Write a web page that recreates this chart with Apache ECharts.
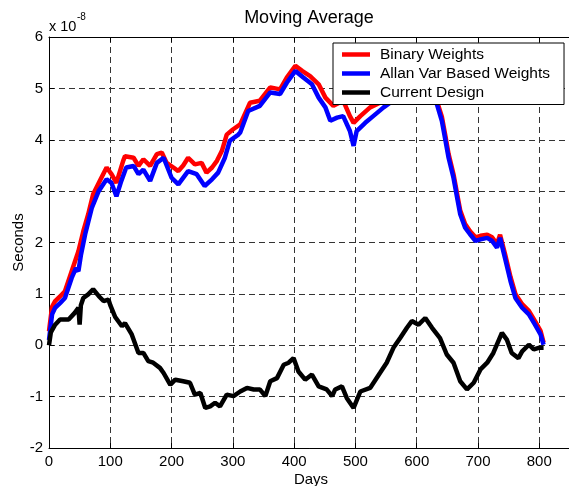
<!DOCTYPE html>
<html>
<head>
<meta charset="utf-8">
<script src="https://cdn.jsdelivr.net/npm/echarts@6/dist/echarts.min.js"></script>
<style>
html,body{margin:0;padding:0;background:#fff;}
#chart{width:569px;height:486px;}
</style>
</head>
<body>
<div id="chart"></div>
<script>
// Values in units of 1e-8 seconds
const binaryDays = [0,5,10,18,26,37,48,56,64,72,83,94,102,110,121,124,138,146,154,165,176,184,192,203,211,219,227,238,249,257,266,274,282,290,300,312,328,344,361,377,388,402,413,426,440,451,464,480,491,497,508,524,540,555,570,585,600,615,627,633,641,647,652,660,666,671,679,687,696,704,715,723,731,736,744,753,761,772,783,793,802,807];
const binaryVals = [0.27,0.75,0.86,0.95,1.05,1.44,1.83,2.22,2.55,2.94,3.2,3.46,3.33,3.16,3.59,3.68,3.65,3.49,3.62,3.49,3.72,3.75,3.55,3.46,3.39,3.5,3.65,3.52,3.55,3.36,3.46,3.59,3.78,4.1,4.2,4.3,4.72,4.76,5.02,4.98,5.21,5.44,5.34,5.24,5.08,4.82,4.66,4.76,4.46,4.33,4.46,4.63,4.72,4.85,4.95,5.0,5.05,4.95,4.78,4.75,4.45,4.06,3.72,3.33,2.94,2.62,2.36,2.22,2.1,2.13,2.15,2.1,1.97,2.15,1.78,1.33,1.0,0.8,0.67,0.47,0.28,0.05];

const allanDays = [0,5,10,18,26,37,44,48,52,59,70,81,94,102,110,118,126,138,146,154,165,176,187,200,211,227,241,254,266,276,287,295,309,312,325,344,361,377,388,402,415,429,440,451,459,470,480,491,497,502,516,529,546,560,575,590,605,620,633,641,647,652,660,666,671,679,687,696,704,715,723,731,736,744,753,761,772,783,793,802,807];
const allanVals = [0.1,0.6,0.73,0.82,0.92,1.31,1.5,1.44,1.75,2.16,2.68,3.0,3.23,3.16,2.9,3.2,3.46,3.49,3.33,3.42,3.2,3.55,3.65,3.26,3.13,3.39,3.33,3.1,3.23,3.36,3.65,3.98,4.1,4.14,4.56,4.66,4.92,4.89,5.11,5.34,5.21,5.08,4.82,4.63,4.37,4.43,4.46,4.17,3.88,4.17,4.33,4.46,4.63,4.75,4.85,4.92,4.95,4.85,4.69,4.37,3.98,3.65,3.26,2.87,2.55,2.29,2.16,2.03,2.06,2.09,2.03,1.9,2.09,1.70,1.25,0.92,0.73,0.6,0.4,0.21,0.01];

const currentDays = [0,3,10,18,32,42,48,50,52,56,64,72,81,89,97,100,108,119,124,135,146,154,162,170,181,187,198,206,219,230,238,247,255,263,271,279,290,301,312,323,334,344,353,361,372,383,391,399,407,418,429,440,453,462,467,478,486,497,508,524,540,551,562,573,584,592,603,614,625,638,649,660,671,682,693,704,715,725,739,747,755,766,772,783,791,799,807];
const currentVals = [0.0,0.25,0.4,0.5,0.5,0.63,0.73,0.4,0.78,0.92,0.99,1.09,0.96,0.86,0.89,0.78,0.55,0.37,0.43,0.21,-0.15,-0.15,-0.31,-0.34,-0.44,-0.54,-0.77,-0.67,-0.7,-0.73,-0.96,-0.93,-1.22,-1.19,-1.12,-1.19,-0.96,-0.99,-0.9,-0.83,-0.86,-0.86,-0.99,-0.7,-0.64,-0.38,-0.34,-0.25,-0.51,-0.67,-0.57,-0.8,-0.86,-0.99,-0.86,-0.8,-1.03,-1.22,-0.9,-0.83,-0.54,-0.34,-0.05,0.14,0.34,0.47,0.4,0.53,0.34,0.14,-0.18,-0.34,-0.7,-0.86,-0.73,-0.47,-0.34,-0.15,0.24,0.11,-0.15,-0.25,-0.12,0.01,-0.08,-0.05,-0.05];

const seriesNames = ['Binary Weights','Allan Var Based Weights','Current Design'];
const seriesColors = ['#ff0000','#0000ff','#000000'];
const xTicks = [0,100,200,300,400,500,600,700,800];
const yTicks = [-2,-1,0,1,2,3,4,5,6];

const FONT = '"Liberation Sans", Arial, sans-serif';
function pairs(d, v){ return d.map((x,i)=>[x, v[i]]); }

const chart = echarts.init(document.getElementById('chart'), null, {renderer:'canvas'});
const grid = {left:49, top:37, width:524, height:411, show:false, outerBoundsMode:'none', containLabel:false};
const dashed = {show:true, lineStyle:{color:'#333', width:1, type:[6,4]}};

chart.setOption({
  animation:false,
  backgroundColor:'#fff',
  grid: grid,
  xAxis:[{
    type:'value', min:0, max:855, interval:100, position:'bottom',
    name:'Days', nameLocation:'middle', nameGap:24, nameMoveOverlap:false,
    nameTextStyle:{fontFamily:FONT, fontSize:15, color:'#000'},
    axisLine:{show:true, onZero:false, lineStyle:{color:'#000', width:1}},
    axisTick:{show:true, inside:true, length:5, lineStyle:{color:'#000'}},
    axisLabel:{fontFamily:FONT, fontSize:15, color:'#000', margin:6, showMaxLabel:false,
      formatter:(v)=> xTicks.indexOf(v) >= 0 ? String(v) : ''},
    splitLine: dashed
  },{
    type:'value', min:0, max:855, interval:100, position:'top',
    axisLine:{show:true, onZero:false, lineStyle:{color:'#000', width:1}},
    axisTick:{show:true, inside:true, length:5, lineStyle:{color:'#000'}},
    axisLabel:{show:false}, splitLine:{show:false}
  }],
  yAxis:{
    type:'value', min:-2, max:6, interval:1,
    name:'Seconds', nameLocation:'middle', nameGap:23, nameRotate:90, nameMoveOverlap:false,
    nameTextStyle:{fontFamily:FONT, fontSize:15, color:'#000'},
    axisLine:{show:true, onZero:false, lineStyle:{color:'#000', width:1}},
    axisTick:{show:true, inside:true, length:5, lineStyle:{color:'#000'}},
    axisLabel:{fontFamily:FONT, fontSize:15, color:'#000', margin:6,
      formatter:(v)=> yTicks.indexOf(v) >= 0 ? String(v) : ''},
    splitLine: dashed
  },
  legend:{
    orient:'vertical', left:333, top:43,
    data: seriesNames,
    icon:'rect', itemWidth:28, itemHeight:4.5, itemGap:3,
    padding:[3.5,14,4,9],
    backgroundColor:'#fff', borderColor:'#000', borderWidth:1, borderRadius:0,
    textStyle:{fontFamily:FONT, fontSize:15.5, color:'#000', padding:[0,0,0,5]},
    selectedMode:false
  },
  series:[
    {name:seriesNames[0], type:'line', xAxisIndex:0, data:pairs(binaryDays,binaryVals), showSymbol:false, symbol:'none',
      lineStyle:{color:seriesColors[0], width:4.5}, itemStyle:{color:seriesColors[0]}, z:2},
    {name:seriesNames[1], type:'line', xAxisIndex:0, data:pairs(allanDays,allanVals), showSymbol:false, symbol:'none',
      lineStyle:{color:seriesColors[1], width:4.5}, itemStyle:{color:seriesColors[1]}, z:3},
    {name:seriesNames[2], type:'line', xAxisIndex:0, data:pairs(currentDays,currentVals), showSymbol:false, symbol:'none',
      lineStyle:{color:seriesColors[2], width:4.5}, itemStyle:{color:seriesColors[2]}, z:3}
  ],
  graphic:[
    {type:'text', x:309, y:18, style:{text:'Moving Average', font:'18px '+FONT, fill:'#000', textAlign:'center', textVerticalAlign:'middle'}},
    {type:'text', x:49, y:27, style:{text:'x 10', font:'14.5px '+FONT, fill:'#000', textAlign:'left', textVerticalAlign:'middle'}},
    {type:'text', x:77, y:17, style:{text:'-8', font:'10px '+FONT, fill:'#000', textAlign:'left', textVerticalAlign:'middle'}}
  ]
});
</script>
</body>
</html>
